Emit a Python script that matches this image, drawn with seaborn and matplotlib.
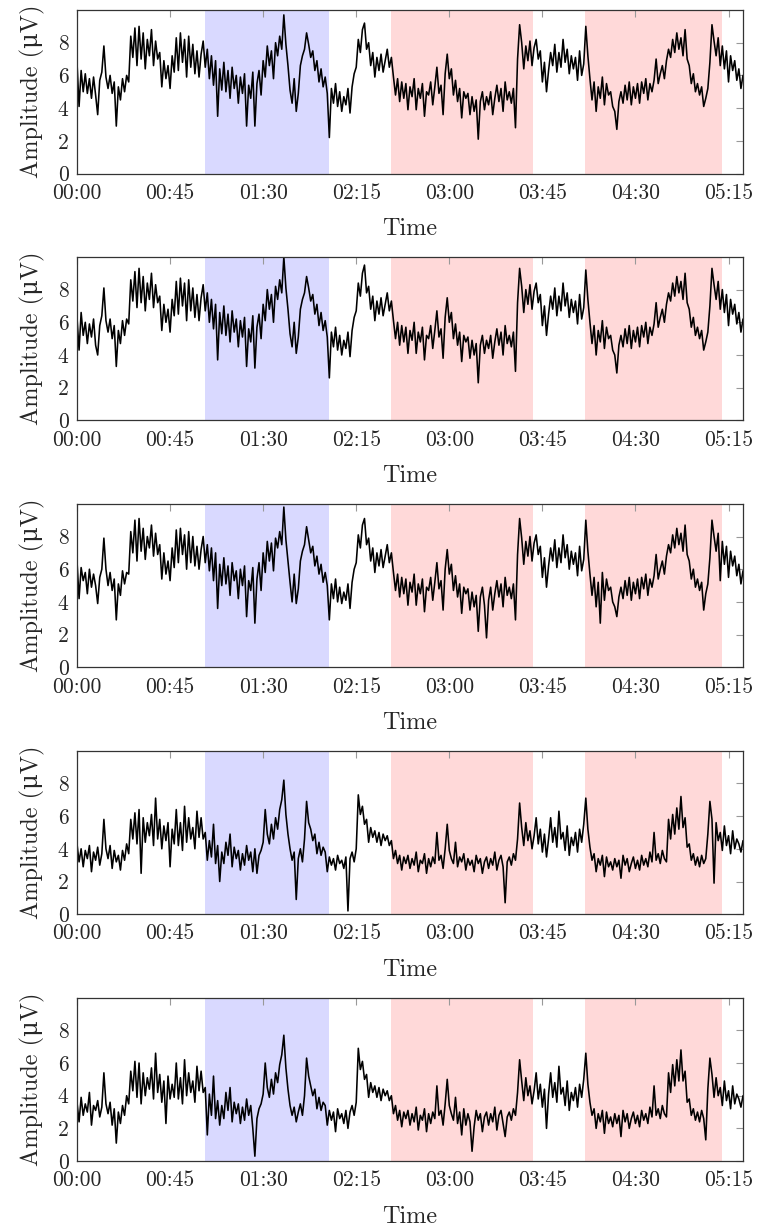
import numpy as np
import pandas as pd
import seaborn as sns
import matplotlib.pyplot as plt

# Amplitude (uV) sampled every minute, 00:00 .. 05:22
panel_1 = [
    6.8, 4.1, 6.3, 5.0, 6.1, 4.9, 5.8, 4.6, 5.9, 4.8,
    3.6, 5.7, 6.2, 7.8, 5.9, 5.2, 6.0, 4.9, 5.6, 2.9,
    5.3, 4.5, 5.8, 5.0, 6.0, 5.6, 8.4, 7.1, 8.9, 6.6,
    9.0, 7.0, 8.6, 6.4, 8.2, 7.2, 8.8, 6.6, 8.1, 7.0,
    7.4, 5.3, 6.9, 5.8, 6.6, 5.2, 7.2, 6.2, 8.3, 6.3,
    8.6, 6.8, 8.2, 5.9, 8.4, 6.5, 7.9, 6.1, 7.5, 5.9,
    7.3, 8.1, 6.5, 7.6, 5.8, 7.2, 5.4, 6.9, 3.5, 6.4,
    5.1, 6.8, 5.0, 6.3, 4.6, 6.5, 5.2, 6.0, 4.3, 5.9,
    4.9, 6.1, 2.9, 5.4, 4.6, 6.2, 2.9, 5.5, 6.3, 4.8,
    6.9, 5.9, 7.8, 6.6, 7.5, 5.8, 8.0, 7.2, 8.4, 7.6,
    9.7, 7.9, 6.6, 5.1, 4.3, 5.8, 3.8, 4.9, 6.6, 7.2,
    7.6, 8.6, 7.9, 7.1, 7.5, 6.3, 6.9, 5.6, 6.4, 5.3,
    5.9, 4.9, 2.2, 5.2, 4.3, 5.5, 4.1, 5.0, 3.8, 4.7,
    4.2, 5.2, 3.7, 5.3, 6.1, 6.5, 8.2, 7.4, 8.8, 9.2,
    7.6, 8.0, 6.6, 7.4, 5.9, 7.1, 6.3, 7.3, 6.2, 6.9,
    7.6, 6.5, 7.1, 5.9, 4.8, 5.8, 4.4, 5.6, 4.6, 5.5,
    3.9, 5.3, 4.7, 5.8, 3.9, 5.2, 4.6, 5.5, 3.5, 5.0,
    4.8, 5.6, 4.2, 5.3, 6.5, 4.9, 5.4, 3.6, 6.1, 7.3,
    5.8, 6.4, 4.8, 5.7, 4.4, 5.2, 3.4, 5.0, 4.6, 4.9,
    3.6, 4.7, 3.8, 4.5, 2.1, 4.4, 5.0, 3.9, 4.7, 4.2,
    5.0, 3.6, 4.6, 5.4, 4.4, 5.2, 3.8, 5.6, 4.5, 5.0,
    4.3, 5.2, 2.8, 7.0, 9.1, 8.0, 6.4, 7.8, 6.9, 8.1,
    6.6, 7.7, 8.2, 7.0, 7.5, 5.6, 6.8, 5.0, 6.3, 7.4,
    6.6, 7.9, 6.2, 7.4, 6.5, 8.2, 6.8, 7.6, 6.1, 7.2,
    6.4, 7.1, 5.7, 7.5, 6.0, 6.7, 9.0, 7.2, 5.8, 4.5,
    5.6, 3.8, 5.3, 4.6, 5.9, 4.2, 5.5, 4.8, 5.0, 4.1,
    3.8, 2.7, 4.4, 5.0, 4.3, 5.4, 4.5, 5.6, 4.2, 5.3,
    4.6, 5.5, 4.3, 5.6, 4.9, 5.8, 4.5, 5.5, 5.0, 5.7,
    7.0, 5.5, 6.1, 6.6, 5.8, 6.9, 7.6, 7.1, 8.2, 7.4,
    8.6, 7.6, 8.3, 7.2, 8.8, 7.0, 6.6, 5.5, 6.1, 5.0,
    5.5, 4.8, 5.3, 4.1, 4.6, 5.2, 6.8, 9.1, 8.1, 7.2,
    8.3, 6.6, 7.8, 6.4, 7.5, 5.6, 7.2, 6.3, 6.9, 5.7,
    6.4, 5.2, 6.0,
]

panel_2 = [
    6.3, 4.3, 6.6, 5.2, 6.0, 4.7, 5.9, 5.1, 6.2, 4.6,
    4.0, 5.8, 6.4, 8.1, 6.1, 5.4, 6.2, 5.0, 5.8, 3.3,
    5.5, 4.7, 6.1, 5.2, 6.2, 5.9, 8.6, 7.3, 9.1, 6.9,
    9.3, 7.2, 8.8, 6.7, 8.4, 7.4, 9.0, 6.9, 8.3, 7.2,
    7.6, 5.5, 7.1, 6.0, 6.8, 5.4, 7.4, 6.4, 8.5, 6.5,
    8.7, 7.0, 8.4, 6.1, 8.6, 6.7, 8.1, 6.3, 7.7, 6.1,
    7.5, 8.3, 6.7, 7.8, 6.0, 7.4, 5.6, 7.1, 3.7, 6.6,
    5.3, 7.0, 5.2, 6.5, 4.8, 6.7, 5.4, 6.2, 4.5, 6.1,
    5.1, 6.3, 3.3, 5.6, 4.8, 6.4, 3.2, 5.7, 6.5, 5.0,
    7.1, 6.1, 8.0, 6.8, 7.7, 6.0, 8.2, 7.4, 8.6, 7.8,
    10.0, 8.1, 6.8, 5.3, 4.5, 6.0, 4.1, 5.1, 6.8, 7.4,
    7.8, 8.8, 8.1, 7.3, 7.7, 6.5, 7.1, 5.8, 6.6, 5.5,
    6.1, 5.1, 2.6, 5.4, 4.5, 5.7, 4.3, 5.2, 4.0, 4.9,
    4.4, 5.4, 3.9, 5.5, 6.3, 6.7, 8.4, 7.6, 9.0, 9.5,
    7.8, 8.2, 6.8, 7.6, 6.1, 7.3, 6.5, 7.5, 6.4, 7.1,
    7.8, 6.7, 7.3, 6.1, 5.0, 6.0, 4.6, 5.8, 4.8, 5.7,
    4.1, 5.5, 4.9, 6.0, 4.1, 5.4, 4.8, 5.7, 3.7, 5.2,
    5.0, 5.8, 4.4, 5.5, 6.7, 5.1, 5.6, 3.8, 6.3, 7.5,
    6.0, 6.6, 5.0, 5.9, 4.6, 5.4, 3.6, 5.2, 4.8, 5.1,
    3.8, 4.9, 4.0, 4.7, 2.3, 4.6, 5.2, 4.1, 4.9, 4.4,
    5.2, 3.8, 4.8, 5.6, 4.6, 5.4, 4.0, 5.8, 4.7, 5.2,
    4.5, 5.4, 3.0, 7.2, 9.3, 8.2, 6.6, 8.0, 7.1, 8.3,
    6.8, 7.9, 8.4, 7.2, 7.7, 5.8, 7.0, 5.2, 6.5, 7.6,
    6.8, 8.1, 6.4, 7.6, 6.7, 8.4, 7.0, 7.8, 6.3, 7.4,
    6.6, 7.3, 5.9, 7.7, 6.2, 6.9, 9.2, 7.4, 6.0, 4.7,
    5.8, 4.0, 5.5, 4.8, 6.1, 4.4, 5.7, 5.0, 5.2, 4.3,
    4.0, 2.9, 4.6, 5.2, 4.5, 5.6, 4.7, 5.8, 4.4, 5.5,
    4.8, 5.7, 4.5, 5.8, 5.1, 6.0, 4.7, 5.7, 5.2, 5.9,
    7.2, 5.7, 6.3, 6.8, 6.0, 7.1, 7.8, 7.3, 8.4, 7.6,
    8.8, 7.8, 8.5, 7.4, 9.0, 7.2, 6.8, 5.7, 6.3, 5.2,
    5.7, 5.0, 5.5, 4.3, 4.8, 5.4, 7.0, 9.3, 8.3, 7.4,
    8.5, 6.8, 8.0, 6.6, 7.7, 5.8, 7.4, 6.5, 7.1, 5.9,
    6.6, 5.4, 6.2,
]

panel_3 = [
    6.5, 4.2, 6.1, 5.3, 5.8, 4.5, 6.0, 4.9, 5.7, 5.0,
    3.9, 5.5, 6.0, 7.9, 6.0, 5.0, 5.8, 4.7, 5.4, 2.9,
    5.1, 4.4, 5.9, 5.1, 5.8, 5.7, 8.3, 7.0, 9.0, 6.5,
    9.1, 7.1, 8.5, 6.6, 8.0, 7.3, 8.7, 6.8, 8.2, 6.9,
    7.5, 5.4, 7.0, 5.7, 6.5, 5.3, 7.3, 6.1, 8.4, 6.4,
    8.5, 6.9, 8.1, 6.0, 8.3, 6.4, 8.0, 6.2, 7.4, 6.0,
    7.2, 8.0, 6.4, 7.5, 5.9, 7.3, 5.3, 7.0, 3.6, 6.3,
    5.0, 6.7, 5.1, 6.2, 4.4, 6.4, 5.3, 5.9, 4.2, 6.0,
    5.0, 6.2, 3.1, 5.3, 4.7, 6.1, 2.7, 5.4, 6.4, 4.7,
    7.0, 5.8, 7.7, 6.5, 7.6, 5.9, 7.9, 7.3, 8.3, 7.5,
    9.8, 7.8, 6.5, 5.2, 4.0, 5.7, 3.9, 4.8, 6.5, 7.1,
    7.5, 8.6, 7.8, 7.0, 7.4, 6.2, 6.8, 5.7, 6.3, 5.2,
    5.8, 5.0, 2.9, 5.1, 4.2, 5.4, 4.0, 4.9, 3.9, 4.6,
    4.1, 5.1, 3.6, 5.2, 6.0, 6.4, 8.1, 7.3, 8.7, 9.1,
    7.5, 7.9, 6.5, 7.3, 5.8, 7.0, 6.2, 7.2, 6.1, 6.8,
    7.5, 6.4, 7.0, 5.8, 4.7, 5.7, 4.3, 5.5, 4.5, 5.4,
    3.8, 5.2, 4.6, 5.7, 3.8, 5.1, 4.5, 5.4, 3.4, 4.9,
    4.7, 5.5, 4.1, 5.2, 6.4, 4.8, 5.3, 3.5, 6.0, 7.2,
    5.7, 6.3, 4.7, 5.6, 4.3, 5.1, 3.3, 4.9, 4.5, 4.8,
    3.5, 4.6, 3.7, 4.4, 2.2, 4.3, 4.9, 3.8, 1.8, 4.1,
    4.9, 3.5, 4.5, 5.3, 4.3, 5.1, 3.7, 5.5, 4.4, 4.9,
    4.2, 5.1, 2.9, 6.9, 9.1, 7.9, 6.3, 7.7, 6.8, 8.0,
    6.5, 7.6, 8.1, 6.9, 7.4, 5.5, 6.7, 4.9, 6.2, 7.3,
    6.5, 7.8, 6.1, 7.3, 6.4, 8.1, 6.7, 7.5, 6.0, 7.1,
    6.3, 7.0, 5.6, 7.4, 5.9, 6.6, 9.0, 7.1, 5.7, 4.4,
    5.5, 3.7, 5.2, 2.7, 5.8, 4.1, 5.4, 4.7, 4.9, 4.0,
    3.7, 3.1, 4.3, 4.9, 4.2, 5.3, 4.4, 5.5, 4.1, 5.2,
    4.5, 5.4, 4.2, 5.5, 4.8, 5.7, 4.4, 5.4, 4.9, 5.6,
    6.9, 5.4, 6.0, 6.5, 5.7, 6.8, 7.5, 7.0, 8.1, 7.3,
    8.5, 7.5, 8.2, 7.1, 8.7, 6.9, 6.5, 5.4, 6.0, 4.9,
    5.4, 4.7, 5.2, 3.5, 4.5, 5.1, 6.7, 9.0, 8.0, 7.1,
    8.2, 5.3, 7.7, 6.3, 7.4, 5.5, 7.1, 6.2, 6.8, 5.6,
    6.3, 5.1, 5.9,
]

panel_4 = [
    4.3, 3.2, 4.0, 2.9, 3.9, 3.4, 4.2, 2.6, 3.8, 3.3,
    4.1, 3.0, 3.7, 5.8, 4.0, 3.4, 4.2, 2.8, 3.9, 3.2,
    3.6, 2.7, 3.9, 3.3, 4.3, 3.7, 5.8, 4.6, 6.2, 4.3,
    6.4, 2.5, 5.9, 4.4, 5.6, 4.8, 6.1, 4.2, 7.1, 4.6,
    5.8, 4.0, 5.4, 4.5, 5.6, 2.9, 5.2, 4.3, 6.4, 4.2,
    5.6, 3.9, 6.6, 4.4, 5.9, 4.6, 5.3, 4.0, 6.3, 4.7,
    5.9, 4.6, 5.0, 3.3, 4.5, 3.5, 5.5, 3.1, 4.2, 2.0,
    3.8, 3.1, 4.4, 3.6, 4.9, 2.9, 4.1, 3.4, 3.9, 2.7,
    3.7, 3.0, 4.2, 3.3, 3.8, 2.6, 4.0, 2.5, 3.6, 3.9,
    4.4, 6.4, 4.9, 4.3, 5.5, 4.6, 5.9, 5.2, 6.4, 7.0,
    8.2, 6.1, 4.9, 4.0, 3.3, 3.8, 0.9, 3.4, 4.0, 3.2,
    4.6, 6.9, 5.6, 5.2, 4.5, 4.9, 3.7, 4.4, 3.6, 4.1,
    3.8, 2.6, 3.5, 3.0, 3.4, 2.7, 3.6, 3.1, 3.3, 2.8,
    3.5, 0.2, 3.4, 3.8, 3.2, 4.0, 7.3, 6.1, 6.6, 5.5,
    5.8, 4.4, 5.3, 4.7, 5.1, 4.4, 5.0, 4.2, 4.9, 4.5,
    4.8, 4.2, 4.5, 3.4, 3.9, 3.1, 3.6, 2.7, 3.5, 3.1,
    3.6, 2.8, 3.4, 3.0, 3.8, 2.6, 3.3, 3.1, 3.7, 2.5,
    3.4, 2.9, 3.5, 3.1, 5.0, 3.3, 3.6, 2.8, 4.0, 5.5,
    3.9, 3.4, 3.1, 4.4, 2.9, 3.5, 3.2, 3.7, 2.7, 3.4,
    3.0, 3.3, 2.6, 3.6, 3.1, 3.4, 2.5, 3.2, 3.5, 2.8,
    3.4, 3.0, 3.8, 2.7, 3.3, 3.6, 2.9, 0.7, 3.2, 3.5,
    3.0, 3.7, 3.3, 4.6, 6.8, 5.3, 4.2, 5.6, 4.5, 5.1,
    4.0, 4.8, 5.9, 4.3, 5.2, 3.8, 4.9, 3.5, 4.6, 5.9,
    4.4, 5.3, 4.1, 6.3, 4.6, 5.0, 3.9, 5.4, 3.6, 4.7,
    4.2, 5.0, 3.8, 5.2, 4.4, 5.5, 7.1, 5.2, 4.1, 3.3,
    3.7, 2.6, 3.4, 3.0, 3.6, 2.3, 3.5, 2.9, 3.2, 2.7,
    3.4, 2.9, 3.3, 2.2, 3.6, 3.0, 3.4, 2.6, 3.1, 3.5,
    2.8, 3.3, 2.7, 3.6, 3.0, 3.4, 2.9, 3.8, 3.2, 5.0,
    3.3, 3.7, 3.1, 3.9, 3.4, 3.2, 5.8, 4.6, 6.1, 4.9,
    6.5, 5.2, 7.2, 5.3, 5.9, 4.1, 4.3, 3.3, 3.7, 3.0,
    3.5, 2.9, 3.6, 3.1, 3.4, 4.9, 6.9, 5.8, 1.9, 5.6,
    4.5, 5.0, 3.9, 5.4, 4.2, 4.8, 3.7, 5.1, 4.0, 4.6,
    4.3, 3.8, 4.5,
]

panel_5 = [
    3.6, 2.4, 3.9, 2.8, 3.5, 3.0, 4.2, 2.2, 3.4, 3.1,
    3.7, 2.7, 3.3, 5.4, 3.5, 2.9, 3.6, 2.2, 3.2, 1.1,
    3.0, 2.3, 3.4, 2.8, 4.0, 3.5, 5.5, 4.3, 6.1, 3.9,
    6.0, 3.5, 5.4, 4.0, 5.1, 4.4, 5.7, 3.8, 6.6, 4.2,
    5.3, 3.6, 4.9, 2.3, 5.2, 3.8, 4.7, 3.9, 6.0, 3.8,
    5.1, 3.5, 6.2, 4.0, 5.4, 4.2, 4.9, 3.6, 5.8, 4.3,
    5.5, 4.2, 4.5, 1.6, 4.1, 2.8, 5.2, 2.6, 3.7, 2.2,
    3.4, 2.6, 4.2, 3.1, 4.5, 2.4, 3.6, 2.9, 3.5, 2.3,
    3.3, 2.5, 3.8, 2.8, 3.4, 2.0, 0.3, 2.6, 3.2, 3.5,
    4.1, 6.0, 4.5, 3.9, 5.0, 4.1, 5.4, 4.8, 5.9, 6.5,
    7.7, 5.7, 4.4, 3.4, 2.8, 3.3, 2.4, 3.0, 3.5, 2.8,
    4.0, 6.3, 5.2, 4.6, 4.0, 4.4, 3.2, 3.9, 3.1, 3.6,
    3.4, 2.2, 3.1, 2.5, 3.0, 1.8, 3.2, 2.6, 2.9, 2.3,
    3.1, 2.0, 3.0, 3.4, 2.8, 3.6, 6.9, 5.6, 6.1, 5.0,
    5.3, 3.9, 4.8, 4.2, 4.6, 3.9, 4.5, 3.7, 4.4, 4.0,
    4.3, 3.7, 4.0, 2.9, 3.4, 2.5, 3.1, 2.1, 3.0, 2.6,
    3.1, 2.2, 2.9, 2.4, 3.3, 1.9, 2.8, 2.5, 3.2, 1.8,
    2.9, 2.3, 3.0, 2.6, 4.6, 2.8, 3.1, 2.2, 3.5, 5.0,
    3.4, 2.9, 2.5, 3.9, 2.3, 3.0, 1.6, 3.2, 2.2, 2.9,
    2.4, 0.6, 2.1, 3.1, 2.5, 2.9, 1.8, 2.7, 3.0, 2.2,
    2.9, 2.4, 3.3, 1.9, 2.8, 3.1, 2.3, 1.5, 2.7, 3.0,
    2.5, 3.2, 2.8, 4.2, 6.2, 4.9, 3.7, 5.1, 4.0, 4.6,
    3.5, 4.3, 5.4, 3.8, 4.7, 3.3, 4.4, 2.0, 4.1, 5.4,
    3.9, 4.8, 3.6, 5.8, 4.1, 4.5, 3.4, 4.9, 3.1, 4.2,
    3.7, 4.5, 3.3, 4.7, 3.9, 5.0, 6.6, 4.7, 3.6, 2.8,
    3.2, 2.0, 2.9, 2.4, 3.1, 1.7, 3.0, 2.3, 2.7, 2.1,
    2.9, 2.3, 2.8, 1.5, 3.1, 2.4, 2.9, 2.0, 2.6, 3.0,
    2.3, 2.8, 2.1, 3.1, 2.5, 2.9, 2.3, 3.3, 2.7, 4.6,
    2.8, 3.2, 2.6, 3.4, 2.9, 2.7, 5.4, 4.2, 5.9, 4.6,
    6.2, 4.9, 6.8, 4.9, 5.5, 3.6, 3.8, 2.8, 3.2, 2.5,
    3.0, 2.4, 3.1, 2.6, 1.3, 4.4, 6.3, 5.3, 3.9, 5.1,
    4.0, 4.5, 3.4, 4.9, 3.7, 4.3, 3.2, 4.6, 3.5, 4.1,
    3.8, 3.3, 4.0,
]

panels = [panel_1, panel_2, panel_3, panel_4, panel_5]

# shaded periods (minutes from start)
blue_periods = [(61.7, 121.8)]
red_periods = [(151.7, 220.5), (245.8, 311.8)]

tick_minutes = [0, 45, 90, 135, 180, 225, 270, 315]
tick_labels = ['00:00', '00:45', '01:30', '02:15', '03:00', '03:45', '04:30', '05:15']

sns.set_style("white")
plt.rcParams['font.family'] = ['cmr10', 'DejaVu Serif']
plt.rcParams['axes.formatter.use_mathtext'] = True

fig = plt.figure(figsize=(7.57, 12.28), dpi=100)
W, H = 757, 1228

for i, vals in enumerate(panels):
    top = 10 + 246.9 * i
    ax = fig.add_axes([77 / W, 1 - (top + 163.5) / H, 666 / W, 163.5 / H])
    for a, b in blue_periods:
        ax.axvspan(a, b, color='#D9D9FF', lw=0, zorder=0)
    for a, b in red_periods:
        ax.axvspan(a, b, color='#FFD9D9', lw=0, zorder=0)

    df = pd.DataFrame({'minute': np.arange(len(vals)), 'amp': vals})
    sns.lineplot(data=df, x='minute', y='amp', color='black', lw=1.15,
                 estimator=None, ax=ax, zorder=3)

    ax.set_xlim(0, 322)
    ax.set_ylim(0, 10)
    ax.set_xticks(tick_minutes)
    ax.set_xticklabels(tick_labels)
    ax.set_yticks([0, 2, 4, 6, 8])
    ax.set_yticklabels(['0', '2', '4', '6', '8'])
    ax.tick_params(direction='in', length=5, width=0.8, color='#999999',
                   top=True, right=True, labelsize=15.5)
    ax.tick_params(axis='x', pad=7)
    ax.tick_params(axis='y', pad=6)
    ax.set_xlabel('Time', fontsize=17.5, labelpad=11)
    ax.set_ylabel('Amplitude (μV)', fontsize=17.5, labelpad=9)
    for s in ax.spines.values():
        s.set_color('#333333')
        s.set_linewidth(0.9)
        s.set_zorder(5)

fig.savefig('out.png', dpi=100)
